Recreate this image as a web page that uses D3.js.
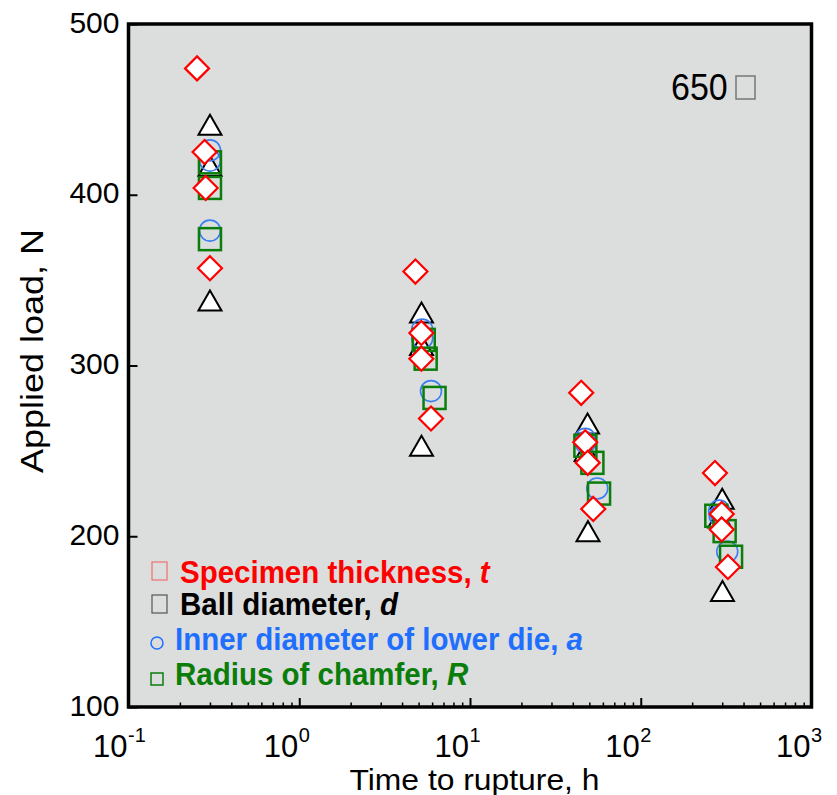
<!DOCTYPE html>
<html>
<head>
<meta charset="utf-8">
<script src="https://cdn.jsdelivr.net/npm/d3@7"></script>
<style>
  body { margin: 0; background: #fff; }
  svg text { font-family: "Liberation Sans", Arial, sans-serif; }
</style>
</head>
<body>
<svg id="chart" width="837" height="795"></svg>
<script>
// values
var timeT = [0.252, 0.279, 0.283, 0.30, 4.79, 5.19, 5.19, 5.91, 44.8, 47.3, 48.9, 52.7, 272, 298, 298, 324];
var loadT = [474, 425, 404, 357, 355, 319, 304, 269, 284, 255, 243, 216, 237, 213, 204, 182];

var timeD = [0.30, 0.30, 0.30, 5.2, 5.2, 5.2, 48.8, 47.9, 49.1, 300, 290, 301];
var loadD = [441, 417, 338, 331, 312, 253, 266, 250, 203, 222, 211, 168];

var timeA = [0.30, 0.30, 0.30, 5.25, 5.25, 5.91, 47.3, 47.3, 55.6, 288, 290, 321];
var loadA = [426, 420, 379, 321, 316, 285, 257, 255, 228, 215, 212, 191];

var timeR = [0.30, 0.30, 0.30, 5.36, 5.5, 6.2, 47.4, 52.1, 57, 277, 310, 338];
var loadR = [419, 404, 374, 315, 304, 281, 253, 243, 225, 212, 203, 188];

var yTicks = [100, 200, 300, 400, 500];
var xExponents = [-1, 0, 1, 2, 3];

var legendLabels = [
    {text: "Specimen thickness, ", it: "t", color: "#ff0000"},
    {text: "Ball diameter, ", it: "d", color: "#000000"},
    {text: "Inner diameter of lower die, ", it: "a", color: "#1f6fff"},
    {text: "Radius of chamfer, ", it: "R", color: "#0a7d0a"}
];

(function () {
    var svg = d3.select('#chart');
    var left = 128.5, right = 811.5, top = 24, bottom = 707;

    var xScale = d3.scaleLog().domain([0.1, 1000]).range([left, right]);
    var yScale = d3.scaleLinear().domain([100, 500]).range([bottom, top]);

    // plot background
    svg.append('rect')
        .attr('x', left).attr('y', top)
        .attr('width', right - left).attr('height', bottom - top)
        .attr('fill', '#dcdddd');

    // bottom ticks, major and minor, pointing inward
    var major = xExponents.map(function (e) { return Math.pow(10, e); });
    var minor = [];
    xExponents.slice(0, -1).forEach(function (e) {
        for (var k = 2; k <= 9; k++) minor.push(k * Math.pow(10, e));
    });

    svg.append('g')
        .attr('transform', 'translate(0,' + bottom + ')')
        .call(d3.axisBottom(xScale).tickValues(minor).tickSizeInner(-4.5).tickSizeOuter(0).tickFormat(''))
        .call(function (g) { g.select('.domain').remove(); })
        .selectAll('line').attr('stroke-width', 1.5);

    svg.append('g')
        .attr('transform', 'translate(0,' + bottom + ')')
        .call(d3.axisBottom(xScale).tickValues(major).tickSizeInner(-9).tickSizeOuter(0).tickFormat(''))
        .call(function (g) { g.select('.domain').remove(); })
        .selectAll('line').attr('stroke-width', 2);

    // x tick labels 10^n
    var xl = svg.append('g');
    xExponents.forEach(function (e) {
        var px = xScale(Math.pow(10, e));
        xl.append('text')
            .attr('x', px - 1).attr('y', 757)
            .attr('text-anchor', 'end')
            .style('font-size', '31px')
            .text('10');
        xl.append('text')
            .attr('x', px - 0.5).attr('y', 742)
            .attr('text-anchor', 'start')
            .style('font-size', '20px')
            .text(e);
    });

    // left axis
    var yAxis = svg.append('g')
        .attr('transform', 'translate(' + left + ',0)')
        .call(d3.axisLeft(yScale).tickValues(yTicks).tickSizeInner(-9).tickSizeOuter(0)
            .tickPadding(9).tickFormat(d3.format('d')));
    yAxis.select('.domain').remove();
    yAxis.selectAll('line').attr('stroke-width', 2);
    yAxis.selectAll('text')
        .attr('dy', '0.27em')
        .style('font-size', '30px')
        .attr('fill', '#000');

    // frame
    svg.append('rect')
        .attr('x', left).attr('y', top)
        .attr('width', right - left).attr('height', bottom - top)
        .attr('fill', 'none')
        .attr('stroke', '#000')
        .attr('stroke-width', 3.5);

    // axis titles
    svg.append('text')
        .attr('x', 474.5).attr('y', 790)
        .attr('text-anchor', 'middle')
        .attr('textLength', 250)
        .attr('lengthAdjust', 'spacingAndGlyphs')
        .style('font-size', '30px')
        .text('Time to rupture, h');

    svg.append('text')
        .attr('transform', 'translate(43,351) rotate(-90)')
        .attr('text-anchor', 'middle')
        .attr('textLength', 244)
        .attr('lengthAdjust', 'spacingAndGlyphs')
        .style('font-size', '31px')
        .text('Applied load, N');

    // markers
    function pairs(xs, ys) {
        return xs.map(function (v, i) { return {time: v, load: ys[i]}; });
    }
    function place(d) {
        return 'translate(' + xScale(d.time) + ',' + yScale(d.load) + ')';
    }

    svg.append('g').selectAll('path')
        .data(pairs(timeD, loadD))
        .enter().append('path')
        .attr('transform', place)
        .attr('d', 'M0,-10L11.5,10L-11.5,10Z')
        .attr('fill', '#fff')
        .attr('stroke', '#000')
        .attr('stroke-width', 2);

    svg.append('g').selectAll('circle')
        .data(pairs(timeA, loadA))
        .enter().append('circle')
        .attr('cx', function (d) { return xScale(d.time); })
        .attr('cy', function (d) { return yScale(d.load); })
        .attr('r', 10.5)
        .attr('fill', 'none')
        .attr('stroke', '#3a7ff2')
        .attr('stroke-width', 1.6);

    svg.append('g').selectAll('rect')
        .data(pairs(timeR, loadR))
        .enter().append('rect')
        .attr('x', function (d) { return xScale(d.time) - 11; })
        .attr('y', function (d) { return yScale(d.load) - 11; })
        .attr('width', 22).attr('height', 22)
        .attr('fill', 'none')
        .attr('stroke', '#0a7d0a')
        .attr('stroke-width', 2.5);

    svg.append('g').selectAll('path')
        .data(pairs(timeT, loadT))
        .enter().append('path')
        .attr('transform', place)
        .attr('d', 'M0,-12L12,0L0,12L-12,0Z')
        .attr('fill', '#fff')
        .attr('stroke', '#ff0000')
        .attr('stroke-width', 2.2);

    // temperature label (degree sign shows as a missing-glyph box in the source)
    svg.append('text')
        .attr('x', 671).attr('y', 100)
        .style('font-size', '34px')
        .attr('transform', 'translate(0,100) scale(1,1.1) translate(0,-100)')
        .text('650');
    svg.append('rect')
        .attr('x', 736).attr('y', 76).attr('width', 19).attr('height', 23)
        .attr('fill', 'none').attr('stroke', '#777').attr('stroke-width', 1.5);

    // legend
    var baselines = [583, 615, 650, 685];
    var textX = [180, 180, 175, 175];
    legendLabels.forEach(function (l, i) {
        var b = baselines[i];
        var t = svg.append('text')
            .attr('x', textX[i]).attr('y', b)
            .attr('transform', 'translate(0,' + b + ') scale(1,1.07) translate(0,' + (-b) + ')')
            .attr('fill', l.color)
            .style('font-size', '29.5px')
            .style('font-weight', 'bold');
        t.append('tspan').text(l.text);
        t.append('tspan').style('font-style', 'italic').text(l.it);
    });
    // legend symbols
    svg.append('rect').attr('x', 152).attr('y', 562).attr('width', 15).attr('height', 18)
        .attr('fill', 'none').attr('stroke', '#f07070').attr('stroke-width', 1.2);
    svg.append('rect').attr('x', 152).attr('y', 595).attr('width', 15).attr('height', 18)
        .attr('fill', 'none').attr('stroke', '#555').attr('stroke-width', 1.2);
    svg.append('circle').attr('cx', 157).attr('cy', 643).attr('r', 6)
        .attr('fill', 'none').attr('stroke', '#1f6fff').attr('stroke-width', 1.5);
    svg.append('rect').attr('x', 151).attr('y', 673).attr('width', 12).attr('height', 12)
        .attr('fill', 'none').attr('stroke', '#0a7d0a').attr('stroke-width', 1.5);
})();
</script>
</body>
</html>
